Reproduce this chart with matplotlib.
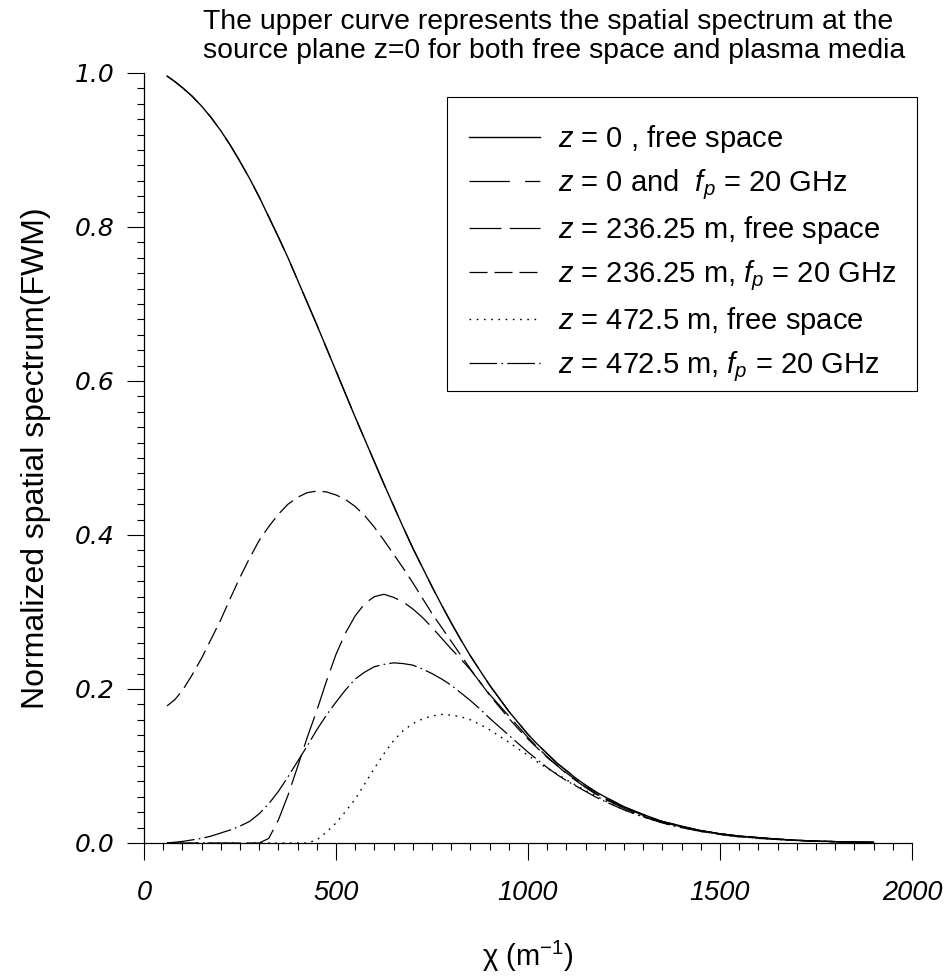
import matplotlib
matplotlib.use('Agg')
import matplotlib.pyplot as plt
from matplotlib.patches import Rectangle
from matplotlib.ticker import MultipleLocator, FormatStrFormatter

plt.rcParams['font.family'] = ['Liberation Sans', 'DejaVu Sans']
plt.rcParams['mathtext.fontset'] = 'custom'
plt.rcParams['mathtext.rm'] = 'Liberation Sans'
plt.rcParams['mathtext.it'] = 'Liberation Sans:italic'
plt.rcParams['mathtext.bf'] = 'Liberation Sans:bold'
plt.rcParams['mathtext.sf'] = 'Liberation Sans'
plt.rcParams['lines.scale_dashes'] = False

# ---------------- data ----------------
chi = [60, 80, 100, 125, 150, 175, 200, 225, 250, 275,
       300, 325, 350, 375, 400, 425, 450, 475, 500, 525,
       550, 575, 600, 625, 650, 675, 700, 725, 750, 775,
       800, 825, 850, 875, 900, 925, 950, 975, 1000, 1025,
       1050, 1075, 1100, 1125, 1150, 1175, 1200, 1250, 1300, 1350,
       1400, 1450, 1500, 1550, 1600, 1650, 1700, 1750, 1800, 1850,
       1900]

z0_free = [0.996, 0.989, 0.981, 0.970, 0.957, 0.942, 0.925, 0.906, 0.885, 0.863,
           0.839, 0.813, 0.787, 0.760, 0.731, 0.702, 0.673, 0.643, 0.613, 0.583,
           0.553, 0.524, 0.495, 0.466, 0.438, 0.410, 0.383, 0.358, 0.333, 0.309,
           0.286, 0.264, 0.243, 0.224, 0.205, 0.188, 0.171, 0.156, 0.141, 0.128,
           0.116, 0.104, 0.094, 0.084, 0.075, 0.067, 0.060, 0.047, 0.037, 0.028,
           0.022, 0.016, 0.012, 0.009, 0.007, 0.005, 0.0035, 0.0025, 0.0018, 0.0012,
           0.0009]

# at the source plane the plasma spectrum equals the free-space one
z0_plasma = list(z0_free)

z236_free = [0.000, 0.000, 0.000, 0.000, 0.000, 0.000, 0.000, 0.000, 0.000, 0.000,
             0.000, 0.006, 0.030, 0.062, 0.099, 0.137, 0.172, 0.210, 0.245, 0.273,
             0.295, 0.311, 0.320, 0.323, 0.319, 0.313, 0.304, 0.293, 0.280, 0.266,
             0.252, 0.239, 0.225, 0.209, 0.193, 0.179, 0.165, 0.151, 0.137, 0.124,
             0.112, 0.101, 0.090, 0.081, 0.072, 0.064, 0.057, 0.045, 0.035, 0.027,
             0.021, 0.016, 0.012, 0.009, 0.007, 0.005, 0.0035, 0.0025, 0.0018, 0.0012,
             0.0009]

z236_plasma = [0.178, 0.186, 0.198, 0.218, 0.240, 0.265, 0.290, 0.318, 0.345, 0.370,
               0.393, 0.411, 0.427, 0.440, 0.449, 0.455, 0.457, 0.456, 0.452, 0.446,
               0.437, 0.425, 0.410, 0.393, 0.375, 0.357, 0.338, 0.318, 0.298, 0.280,
               0.262, 0.244, 0.226, 0.209, 0.192, 0.177, 0.162, 0.148, 0.135, 0.123,
               0.111, 0.101, 0.091, 0.082, 0.073, 0.065, 0.058, 0.046, 0.036, 0.027,
               0.021, 0.016, 0.012, 0.009, 0.007, 0.005, 0.0035, 0.0025, 0.0018, 0.0012,
               0.0009]

z472_free = [0.000, 0.000, 0.000, 0.000, 0.000, 0.000, 0.000, 0.000, 0.000, 0.000,
             0.000, 0.000, 0.000, 0.000, 0.000, 0.000, 0.004, 0.014, 0.026, 0.041,
             0.057, 0.077, 0.097, 0.116, 0.133, 0.146, 0.155, 0.161, 0.165, 0.167,
             0.166, 0.164, 0.160, 0.154, 0.147, 0.139, 0.131, 0.122, 0.114, 0.105,
             0.097, 0.090, 0.082, 0.075, 0.068, 0.062, 0.055, 0.043, 0.034, 0.026,
             0.020, 0.015, 0.011, 0.008, 0.006, 0.0045, 0.0033, 0.0024, 0.0017, 0.0012,
             0.0009]

z472_plasma = [0.000, 0.001, 0.002, 0.004, 0.006, 0.009, 0.013, 0.017, 0.022, 0.028,
               0.038, 0.051, 0.067, 0.086, 0.106, 0.126, 0.147, 0.166, 0.183, 0.199,
               0.213, 0.222, 0.229, 0.232, 0.234, 0.233, 0.231, 0.226, 0.220, 0.213,
               0.205, 0.195, 0.185, 0.174, 0.162, 0.151, 0.140, 0.129, 0.118, 0.108,
               0.098, 0.089, 0.081, 0.074, 0.067, 0.060, 0.054, 0.043, 0.034, 0.026,
               0.020, 0.015, 0.011, 0.008, 0.006, 0.0045, 0.0033, 0.0024, 0.0017, 0.0012,
               0.0009]

labels = [r'$z$ = 0 , free space',
          r'$z$ = 0 and  $f_p$ = 20 GHz',
          r'$z$ = 236.25 m, free space',
          r'$z$ = 236.25 m, $f_p$ = 20 GHz',
          r'$z$ = 472.5 m, free space',
          r'$z$ = 472.5 m, $f_p$ = 20 GHz']

title_lines = ['The upper curve represents the spatial spectrum at the',
               'source plane z=0 for both free space and plasma media']

# ---------------- figure ----------------
W, H = 953, 976
fig = plt.figure(figsize=(W / 100, H / 100), dpi=100)
ax = fig.add_axes([144 / W, 133 / H, 768 / W, 770 / H])

series = [z0_free, z0_plasma, z236_free, z236_plasma, z472_free, z472_plasma]
styles = ['-',
          (0, (29, 11, 11, 11)),
          (0, (23, 6)),
          (0, (13, 5)),
          (0, (1.2, 4)),
          (0, (20, 3, 1.2, 3))]
widths = [1.0, 0.9, 0.9, 0.9, 1.0, 0.9]

handles = []
for vals, ls, lw, lab in zip(series, styles, widths, labels):
    h, = ax.plot(chi, vals, color='black', linestyle=ls, linewidth=lw, label=lab)
    handles.append(h)

ax.set_xlim(0, 2000)
ax.set_ylim(0, 1.0)
for s in ['top', 'right']:
    ax.spines[s].set_visible(False)
for s in ['left', 'bottom']:
    ax.spines[s].set_linewidth(0.9)

ax.xaxis.set_major_locator(MultipleLocator(500))
ax.xaxis.set_minor_locator(MultipleLocator(50))
ax.yaxis.set_major_locator(MultipleLocator(0.2))
ax.yaxis.set_minor_locator(MultipleLocator(0.02))
ax.yaxis.set_major_formatter(FormatStrFormatter('%.1f'))

ax.tick_params(which='major', direction='out', length=12.5, width=0.8)
ax.tick_params(which='minor', direction='out', length=5, width=0.8)
ax.tick_params(axis='x', which='major', pad=14)
ax.tick_params(axis='y', which='major', pad=9)

for t in ax.get_xticklabels():
    t.set_fontstyle('italic')
    t.set_fontsize(19.5)
for t in ax.get_yticklabels():
    t.set_family(['DejaVu Sans'])
    t.set_fontstyle('oblique')
    t.set_fontsize(18)

ax.set_xlabel(r'χ (m$^{-1}$)', fontsize=21, labelpad=24)
ax.set_ylabel('Normalized spatial spectrum(FWM)', fontsize=23, labelpad=17)

fig.text(203 / W, 1 - 29 / H, title_lines[0], ha='left', va='baseline', fontsize=20.4)
fig.text(203 / W, 1 - 58 / H, title_lines[1], ha='left', va='baseline', fontsize=20.4)

# legend frame (drawn separately so the padding matches the original box)
fig.patches.append(Rectangle((447 / W, 1 - 391 / H), 470 / W, 294 / H,
                             transform=fig.transFigure, facecolor='white',
                             edgecolor='black', linewidth=0.8, zorder=5))

leg = ax.legend(handles=handles, loc='upper left',
                bbox_to_anchor=(447 / W, 1 - 101 / H), bbox_transform=fig.transFigure,
                borderaxespad=0, fontsize=21, frameon=False, handlelength=2.45,
                handletextpad=0.6, borderpad=0.75, labelspacing=0.42)
leg.set_zorder(6)
leg.remove()
fig.legends.append(leg)
leg.set_figure(fig)

fig.savefig('out.png', dpi=100)
